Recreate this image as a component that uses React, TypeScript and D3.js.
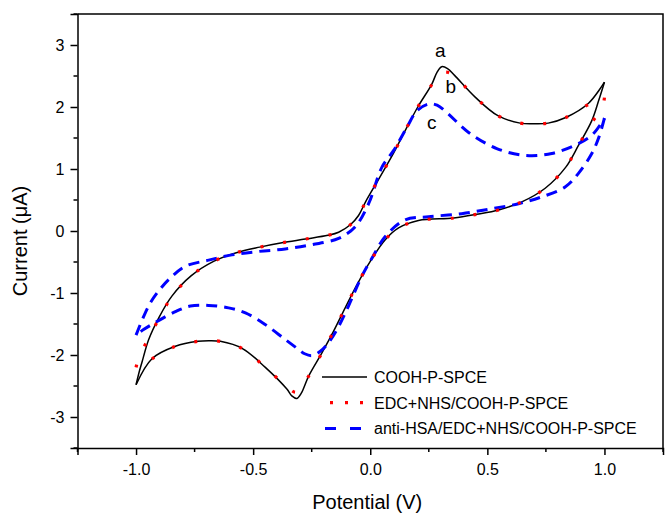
import React, { useEffect, useRef } from 'react';
import * as d3 from 'd3';

// potential (V), current (uA) — forward scan then reverse scan
const coohForward: [number, number][] = [
  [-1.0, -2.48], [-0.985, -2.25], [-0.975, -2.12], [-0.946, -1.75], [-0.903, -1.4],
  [-0.847, -1.05], [-0.764, -0.72], [-0.669, -0.49], [-0.572, -0.35], [-0.472, -0.26],
  [-0.377, -0.19], [-0.277, -0.13], [-0.181, -0.07], [-0.135, -0.02], [-0.085, 0.1],
  [-0.05, 0.25], [-0.02, 0.47], [0.035, 0.83], [0.1, 1.26], [0.152, 1.64], [0.203, 2.0],
  [0.263, 2.37], [0.285, 2.56], [0.305, 2.65], [0.33, 2.62], [0.36, 2.51], [0.448, 2.16],
  [0.545, 1.86], [0.64, 1.74], [0.7, 1.73], [0.76, 1.74], [0.835, 1.83], [0.932, 2.06],
  [1.0, 2.4],
];
const coohReverse: [number, number][] = [
  [1.0, 2.4], [0.975, 2.1], [0.946, 1.78], [0.889, 1.38], [0.835, 1.03], [0.747, 0.69],
  [0.647, 0.47], [0.548, 0.34], [0.455, 0.27], [0.356, 0.21], [0.206, 0.17], [0.121, 0.05],
  [0.064, -0.14], [0.0, -0.49], [-0.057, -0.87], [-0.107, -1.24], [-0.157, -1.62],
  [-0.207, -1.97], [-0.263, -2.34], [-0.295, -2.62], [-0.313, -2.7], [-0.335, -2.66],
  [-0.356, -2.55], [-0.448, -2.2], [-0.544, -1.9], [-0.64, -1.78], [-0.69, -1.77],
  [-0.736, -1.78], [-0.832, -1.86], [-0.932, -2.06], [-1.0, -2.48],
];

const edcForward: [number, number][] = [
  [-1.0, -2.2], [-0.985, -2.0], [-0.953, -1.78], [-0.903, -1.42], [-0.847, -1.06],
  [-0.764, -0.72], [-0.669, -0.49], [-0.572, -0.35], [-0.472, -0.26], [-0.377, -0.19],
  [-0.277, -0.13], [-0.181, -0.07], [-0.135, -0.02], [-0.085, 0.1], [-0.05, 0.25],
  [-0.02, 0.47], [0.035, 0.83], [0.1, 1.26], [0.152, 1.64], [0.203, 2.0], [0.263, 2.36],
  [0.3, 2.54], [0.33, 2.56], [0.36, 2.5], [0.448, 2.16], [0.545, 1.86], [0.64, 1.74],
  [0.7, 1.73], [0.76, 1.74], [0.835, 1.83], [0.932, 2.04], [0.985, 2.12], [1.0, 2.15],
];
const edcReverse: [number, number][] = [
  [1.0, 2.15], [0.99, 1.98], [0.946, 1.75], [0.889, 1.38], [0.835, 1.03], [0.747, 0.69],
  [0.647, 0.47], [0.548, 0.34], [0.455, 0.27], [0.356, 0.21], [0.206, 0.17], [0.121, 0.05],
  [0.064, -0.14], [0.0, -0.49], [-0.057, -0.87], [-0.107, -1.24], [-0.157, -1.62],
  [-0.207, -1.97], [-0.263, -2.34], [-0.3, -2.56], [-0.32, -2.6], [-0.35, -2.53],
  [-0.448, -2.2], [-0.544, -1.9], [-0.64, -1.78], [-0.69, -1.77], [-0.736, -1.78],
  [-0.832, -1.86], [-0.932, -2.06], [-0.975, -2.15], [-1.0, -2.2],
];

const hsaForward: [number, number][] = [
  [-1.0, -1.68], [-0.97, -1.4], [-0.939, -1.16], [-0.9, -0.95], [-0.854, -0.76],
  [-0.79, -0.57], [-0.69, -0.47], [-0.591, -0.385], [-0.477, -0.33], [-0.363, -0.29],
  [-0.249, -0.22], [-0.135, -0.12], [-0.064, 0.07], [-0.007, 0.44], [0.05, 1.03],
  [0.1, 1.3], [0.156, 1.67], [0.2, 1.94], [0.25, 2.05], [0.285, 2.03], [0.327, 1.91],
  [0.42, 1.59], [0.54, 1.33], [0.66, 1.22], [0.775, 1.25], [0.889, 1.41], [0.95, 1.56],
  [0.99, 1.76], [1.0, 1.82],
];
const hsaReverse: [number, number][] = [
  [1.0, 1.82], [0.975, 1.5], [0.946, 1.25], [0.889, 0.93], [0.832, 0.71], [0.732, 0.55],
  [0.633, 0.44], [0.519, 0.36], [0.391, 0.28], [0.249, 0.23], [0.149, 0.18], [0.064, -0.09],
  [0.007, -0.44], [-0.036, -0.73], [-0.093, -1.21], [-0.135, -1.54], [-0.178, -1.8],
  [-0.213, -1.94], [-0.249, -2.01], [-0.28, -1.98], [-0.306, -1.91], [-0.363, -1.75],
  [-0.448, -1.51], [-0.533, -1.32], [-0.605, -1.24], [-0.69, -1.2], [-0.768, -1.21],
  [-0.832, -1.3], [-0.911, -1.46], [-0.968, -1.59], [-1.0, -1.68],
];

const seriesNames = ['COOH-P-SPCE', 'EDC+NHS/COOH-P-SPCE', 'anti-HSA/EDC+NHS/COOH-P-SPCE'];
const xMajorTicks = [-1.0, -0.5, 0.0, 0.5, 1.0];
const xMinorTicks = [-1.25, -0.75, -0.25, 0.25, 0.75, 1.25];
const yMajorTicks = [-3, -2, -1, 0, 1, 2, 3];
const yMinorTicks = [-3.5, -2.5, -1.5, -0.5, 0.5, 1.5, 2.5, 3.5];
const curveLabels: { text: string; v: number; i: number }[] = [
  { text: 'a', v: 0.299, i: 2.8 },
  { text: 'b', v: 0.344, i: 2.23 },
  { text: 'c', v: 0.263, i: 1.65 },
];

const W = 665;
const H = 513;
const FONT = 'Liberation Sans, Arial, sans-serif';

const App = () => {
  const ref = useRef<SVGSVGElement | null>(null);

  useEffect(() => {
    if (!ref.current) return;
    const svg = d3.select(ref.current);
    svg.selectAll('*').remove();

    const left = 77.5, right = 663, top = 14, bottom = 448;
    const x = d3.scaleLinear().domain([-1.25, 1.25]).range([left, right]);
    const y = d3.scaleLinear().domain([-3.5, 3.5]).range([bottom, top]);

    const line = d3.line<[number, number]>()
      .x(d => x(d[0]))
      .y(d => y(d[1]))
      .curve(d3.curveCatmullRom.alpha(0.5));

    // frame (top + right)
    svg.append('path')
      .attr('d', `M${left},${top}H${right}V${bottom}`)
      .attr('fill', 'none')
      .attr('stroke', '#000')
      .attr('stroke-width', 1.5);

    const styles = [
      { stroke: '#000', width: 1.5, dash: null as string | null, legendDash: null as string | null, off: 0 },
      { stroke: '#ff0000', width: 3.2, dash: '3,20', legendDash: '3,12', off: -8 },
      { stroke: '#0000ff', width: 3, dash: '11,7', legendDash: '11,14', off: -3 },
    ];
    const curves = [
      [coohForward, coohReverse],
      [edcForward, edcReverse],
      [hsaForward, hsaReverse],
    ];

    // black first, then the broken lines on top
    [0, 2, 1].forEach(k => {
      curves[k].forEach(branch => {
        const p = svg.append('path')
          .datum(branch)
          .attr('fill', 'none')
          .attr('stroke', styles[k].stroke)
          .attr('stroke-width', styles[k].width)
          .attr('d', line);
        if (styles[k].dash) p.attr('stroke-dasharray', styles[k].dash);
      });
    });

    // x axis
    const xAxis = svg.append('g').attr('transform', `translate(0,${bottom})`);
    xAxis.call(
      d3.axisBottom(x).tickValues(xMajorTicks).tickSize(7).tickPadding(9)
        .tickFormat(d => d3.format('.1f')(d as number).replace('−', '-'))
    );
    xAxis.append('g').selectAll('line').data(xMinorTicks).join('line')
      .attr('x1', d => x(d)).attr('x2', d => x(d))
      .attr('y1', 0).attr('y2', 4)
      .attr('stroke', '#000').attr('stroke-width', 1.5);

    // y axis
    const yAxis = svg.append('g').attr('transform', `translate(${left},0)`);
    yAxis.call(
      d3.axisLeft(y).tickValues(yMajorTicks).tickSize(7).tickPadding(6)
        .tickFormat(d => String(d))
    );
    yAxis.append('g').selectAll('line').data(yMinorTicks).join('line')
      .attr('y1', d => y(d)).attr('y2', d => y(d))
      .attr('x1', 0).attr('x2', -4)
      .attr('stroke', '#000').attr('stroke-width', 1.5);

    svg.selectAll('.domain').attr('stroke-width', 1.5);
    svg.selectAll('.tick line').attr('stroke-width', 1.5);
    svg.selectAll('.tick text')
      .attr('font-family', FONT)
      .attr('font-size', 16)
      .attr('fill', '#000');

    // axis titles
    svg.append('text')
      .attr('x', (left + right) / 2 - 3)
      .attr('y', 509)
      .attr('text-anchor', 'middle')
      .attr('font-family', FONT)
      .attr('font-size', 20)
      .text('Potential (V)');
    svg.append('text')
      .attr('transform', `translate(27,${(top + bottom) / 2 + 10}) rotate(-90)`)
      .attr('text-anchor', 'middle')
      .attr('font-family', FONT)
      .attr('font-size', 20)
      .text('Current (\u03bcA)');

    // curve labels
    svg.append('g').selectAll('text').data(curveLabels).join('text')
      .attr('x', d => x(d.v))
      .attr('y', d => y(d.i))
      .attr('text-anchor', 'middle')
      .attr('font-family', FONT)
      .attr('font-size', 19)
      .text(d => d.text);

    // legend
    const legend = svg.append('g').attr('transform', 'translate(322,377)');
    seriesNames.forEach((name, k) => {
      const row = legend.append('g').attr('transform', `translate(0,${k * 25.7})`);
      const l = row.append('line')
        .attr('x1', 0).attr('x2', 45)
        .attr('y1', 0).attr('y2', 0)
        .attr('stroke', styles[k].stroke)
        .attr('stroke-width', styles[k].width);
      if (styles[k].legendDash) l.attr('stroke-dasharray', styles[k].legendDash).attr('stroke-dashoffset', styles[k].off);
      row.append('text')
        .attr('x', 52)
        .attr('y', 6)
        .attr('font-family', FONT)
        .attr('font-size', 16)
        .text(name);
    });
  }, []);

  return (
    <svg
      ref={ref}
      width={W}
      height={H}
      style={{ position: 'absolute', left: 0, top: 0, background: '#fff' }}
    />
  );
};

export default App;
